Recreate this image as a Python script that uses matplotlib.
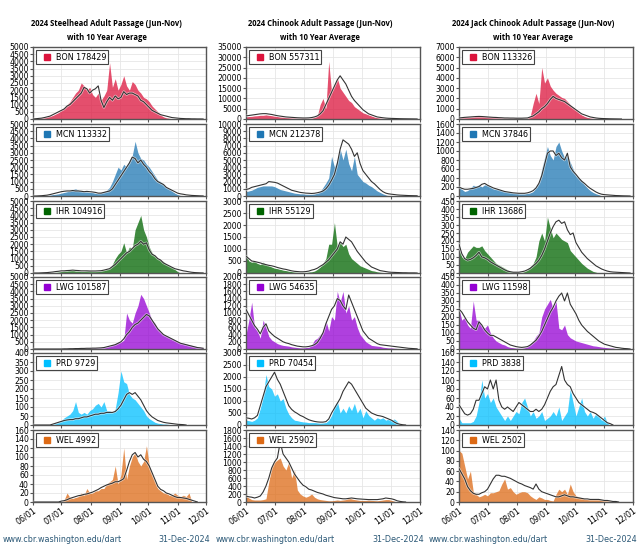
import numpy as np
import matplotlib
matplotlib.use('Agg')
import matplotlib.pyplot as plt
import matplotlib.dates as mdates
import matplotlib.patheffects as pe
from matplotlib.lines import Line2D

# daily counts, one reading every 3 days from 06/01
start = np.datetime64('2024-06-01')
step = 3

# ---- Steelhead ----
stl_bon = [0, 30, 60, 80, 100, 150, 200, 250, 350, 450,
           600, 800, 1000, 1200, 1500, 1800, 2000, 2500, 2300, 2000,
           2200, 1700, 1500, 1800, 1300, 1600, 2000, 3900, 2200, 2800, 2000,
           2400, 3000, 2300, 2000, 2600, 2400, 2000, 1800, 1500, 1400,
           1200, 900, 700, 500, 300, 150, 80, 50, 30, 20,
           10, 10, 5, 5, 0]
stl_bon_avg = [0, 20, 40, 60, 100, 150, 200, 300, 400, 500,
               600, 700, 900, 1000, 1200, 1400, 1600, 1800, 2200, 2100,
               1800, 2000, 2100, 2300, 1300, 800, 1200, 1500, 1300, 1600, 1400,
               1500, 1900, 1700, 1800, 1800, 1700, 1600, 1300, 1200, 1000,
               800, 600, 500, 400, 300, 250, 200, 150, 100, 80,
               60, 40, 30, 20, 20, 10, 10, 5, 5, 0]
stl_mcn = [0, 0, 0, 10, 20, 40, 80, 100, 120, 150,
           200, 250, 300, 350, 450, 500, 400, 350, 300, 300,
           250, 250, 200, 200, 250, 300, 400, 600, 1000, 1500, 2000,
           1800, 2200, 2000, 2500, 2800, 3800, 3000, 2600, 2500, 2200,
           2000, 1700, 1400, 1100, 1000, 800, 600, 500, 350, 200,
           100, 30, 10, 0]
stl_mcn_avg = [0, 0, 10, 20, 40, 60, 100, 150, 200, 250,
               300, 330, 350, 350, 380, 350, 350, 330, 300, 320,
               300, 280, 250, 200, 200, 250, 300, 350, 500, 800, 1100,
               1400, 1700, 2000, 2300, 2700, 2600, 2300, 2500, 2200, 2000,
               1700, 1500, 1200, 1000, 900, 800, 600, 500, 400, 300,
               200, 150, 120, 80, 60, 40, 30, 20, 10, 5]
stl_ihr = [0, 0, 0, 0, 10, 20, 30, 50, 60, 80,
           100, 150, 150, 200, 200, 150, 150, 120, 120, 150,
           150, 120, 120, 130, 150, 200, 250, 300, 600, 1000, 1300,
           1500, 2100, 1400, 1800, 1700, 3000, 3500, 4000, 3000, 2500,
           1800, 1400, 1200, 1000, 900, 800, 600, 500, 400, 250,
           100, 0]
stl_ihr_avg = [0, 0, 0, 10, 20, 30, 50, 70, 100, 120,
               150, 150, 170, 180, 200, 180, 170, 150, 150, 150,
               140, 140, 140, 150, 160, 200, 250, 300, 450, 600, 800,
               1000, 1200, 1400, 1500, 1700, 1900, 2000, 2200, 2000, 2100,
               1600, 1300, 1200, 1000, 900, 700, 600, 500, 400, 300,
               250, 200, 150, 120, 80, 50, 30, 20, 10, 5]
stl_lwg = [0, 0, 0, 0, 0, 0, 0, 0, 0, 0,
           10, 10, 20, 20, 30, 30, 40, 50, 50, 60,
           60, 70, 80, 80, 100, 100, 150, 200, 300, 400, 500,
           500, 600, 2500, 2000, 1800, 2500, 3000, 3800, 3500, 3000,
           2500, 2000, 1800, 1400, 1200, 1000, 900, 800, 700, 600,
           500, 450, 400, 350, 300, 250, 200, 150, 120, 100]
stl_lwg_avg = [0, 0, 0, 0, 0, 0, 0, 0, 0, 0,
               0, 10, 10, 20, 20, 30, 30, 40, 40, 50,
               50, 60, 60, 70, 80, 100, 150, 200, 250, 300, 400,
               500, 700, 1000, 1200, 1500, 1700, 1800, 2000, 2200, 2400,
               2300, 2000, 1700, 1400, 1200, 1000, 900, 800, 700, 600,
               500, 400, 350, 300, 250, 200, 150, 100, 80, 50]
stl_prd = [0, 0, 0, 0, 0, 0, 0, 5, 10, 15,
           25, 40, 50, 60, 80, 130, 70, 60, 70, 60,
           80, 90, 110, 120, 100, 130, 80, 80, 70, 90, 180,
           300, 240, 230, 170, 150, 140, 120, 100, 80, 50,
           35, 25, 15, 10, 8, 5, 5, 3, 3, 2,
           1, 0]
stl_prd_avg = [0, 0, 0, 0, 0, 0, 0, 5, 10, 15,
               20, 25, 28, 30, 30, 35, 35, 40, 45, 45,
               50, 55, 60, 60, 65, 65, 70, 70, 70, 75, 90,
               110, 140, 170, 180, 170, 180, 160, 140, 110, 80,
               60, 45, 35, 25, 20, 15, 12, 10, 8, 6,
               4, 3, 2, 0]
stl_wel = [0, 0, 0, 0, 0, 0, 0, 0, 0, 0,
           0, 5, 20, 10, 8, 10, 12, 20, 15, 30,
           20, 20, 25, 25, 30, 30, 40, 45, 50, 80, 40,
           60, 120, 50, 80, 100, 110, 90, 80, 90, 125,
           80, 60, 45, 30, 25, 20, 20, 15, 15, 20,
           15, 12, 15, 12, 20, 0]
stl_wel_avg = [0, 0, 0, 0, 0, 0, 0, 0, 0, 0,
               2, 3, 5, 8, 10, 12, 14, 15, 17, 18,
               20, 22, 25, 28, 32, 35, 38, 40, 42, 45, 45,
               48, 52, 70, 90, 105, 110, 100, 105, 95, 90,
               80, 65, 50, 35, 28, 25, 20, 18, 15, 12,
               10, 10, 9, 8, 6, 4, 2, 0]

# ---- Chinook ----
chn_bon = [1000, 1200, 1300, 1500, 1600, 1800, 1800, 2000, 1800, 1600,
           1400, 1200, 1000, 900, 800, 700, 600, 600, 500, 500,
           500, 400, 400, 500, 800, 1500, 7000, 10000, 5000, 28000, 13000,
           16000, 20000, 15000, 13000, 11000, 9000, 8000, 6000, 5000, 4000,
           3000, 2500, 2000, 1500, 1000, 700, 500, 400, 300, 200,
           150, 100, 80, 50, 30, 20, 10, 0]
chn_bon_avg = [1500, 1700, 1900, 2100, 2300, 2500, 2600, 2600, 2400, 2200,
               1900, 1600, 1400, 1200, 1000, 900, 800, 700, 600, 550,
               500, 500, 550, 700, 1000, 1500, 2500, 4000, 7000, 10000, 13000,
               16000, 19000, 21000, 19000, 17000, 14000, 11000, 9000, 7500, 6000,
               4500, 3500, 2500, 2000, 1500, 1000, 800, 600, 450, 350,
               300, 250, 200, 150, 120, 100, 80, 60, 40, 20]
chn_mcn = [600, 700, 800, 1000, 1200, 1300, 1400, 1400, 1400, 1400,
           1300, 1100, 900, 800, 700, 600, 500, 400, 350, 300,
           300, 250, 250, 250, 300, 400, 600, 1200, 1800, 2500, 5500,
           4000, 5000, 6500, 5000, 6500, 4500, 3500, 5500, 3000, 2500,
           2000, 1800, 1500, 1300, 1000, 700, 500, 300, 150, 0]
chn_mcn_avg = [900, 1000, 1200, 1300, 1400, 1500, 1600, 1700, 2000, 1950,
               1900, 1800, 1600, 1400, 1200, 1000, 800, 700, 600, 500,
               450, 400, 380, 350, 380, 450, 550, 700, 1000, 1500, 2200,
               3000, 4500, 6500, 7800, 7500, 7200, 6500, 5500, 6000, 4500,
               3500, 3000, 2500, 2000, 1700, 1300, 900, 600, 400, 300,
               250, 200, 150, 120, 100, 80, 60, 50, 40, 30]
chn_ihr = [800, 500, 450, 500, 400, 350, 450, 350, 300, 250,
           200, 180, 150, 120, 100, 80, 60, 50, 40, 30,
           30, 30, 40, 50, 80, 150, 250, 400, 600, 1200, 1200,
           2100, 1100, 1300, 1100, 1200, 800, 600, 500, 400, 300,
           250, 200, 150, 100, 80, 50, 30, 20, 10, 0]
chn_ihr_avg = [700, 600, 500, 480, 450, 420, 380, 350, 320, 300,
               270, 230, 200, 170, 150, 120, 90, 70, 60, 50,
               50, 60, 80, 120, 150, 200, 280, 350, 450, 550, 700,
               850, 1000, 1300, 1200, 1500, 1400, 1300, 1100, 900, 750,
               600, 450, 350, 250, 200, 150, 100, 80, 60, 40,
               30, 25, 20, 15, 10, 10, 5, 5, 5, 0]
chn_lwg = [400, 800, 1300, 600, 500, 300, 800, 600, 350, 250,
           200, 150, 120, 100, 90, 80, 60, 50, 40, 30,
           30, 40, 50, 100, 250, 300, 400, 500, 800, 500, 900,
           800, 1600, 1300, 1600, 1000, 1200, 800, 900, 600, 400,
           300, 200, 150, 100, 90, 80, 70, 50, 40, 30,
           30, 20, 15, 10, 5, 0]
chn_lwg_avg = [1100, 950, 800, 650, 550, 420, 600, 700, 500, 420,
               350, 300, 250, 200, 170, 150, 120, 100, 80, 70,
               60, 60, 70, 90, 120, 180, 300, 450, 700, 900, 1100,
               1200, 1400, 1350, 1200, 1100, 1500, 1300, 1100, 900, 700,
               500, 400, 300, 250, 200, 150, 120, 110, 100, 90,
               80, 70, 60, 50, 40, 30, 20, 15, 10, 5]
chn_prd = [200, 180, 150, 200, 300, 700, 1200, 2100, 1600, 1500,
           1200, 1300, 1000, 1100, 700, 450, 300, 200, 180, 150,
           130, 120, 100, 100, 100, 90, 80, 90, 100, 200, 400,
           800, 1000, 500, 700, 500, 800, 600, 900, 500, 700,
           300, 600, 400, 300, 200, 300, 250, 300, 200, 250,
           200, 250, 150, 0]
chn_prd_avg = [300, 280, 250, 300, 400, 800, 1200, 1600, 1800, 2000,
               2200, 1900, 1700, 1400, 1100, 800, 650, 550, 480, 400,
               350, 280, 220, 180, 150, 130, 120, 120, 140, 250, 500,
               700, 900, 1100, 1400, 1600, 1800, 1700, 1500, 1300, 1100,
               900, 700, 600, 500, 450, 400, 380, 350, 300, 250,
               200, 120, 60, 30, 10, 0]
chn_wel = [150, 100, 60, 50, 50, 50, 60, 80, 500, 900,
           1000, 1050, 1100, 900, 800, 1000, 600, 800, 300, 200,
           150, 120, 150, 200, 120, 80, 60, 50, 40, 30, 30,
           40, 50, 40, 50, 60, 100, 80, 60, 50, 40,
           40, 40, 50, 40, 35, 30, 40, 50, 60, 60,
           40, 20, 10, 0]
chn_wel_avg = [150, 130, 120, 100, 120, 150, 250, 400, 600, 850,
               1000, 1100, 1500, 1200, 1100, 1000, 850, 700, 600, 500,
               420, 380, 320, 300, 270, 240, 220, 200, 170, 150, 130,
               110, 100, 90, 80, 80, 90, 100, 90, 80, 75,
               70, 65, 60, 60, 60, 60, 70, 80, 100, 90,
               80, 60, 30, 15, 5, 0]

# ---- Jack Chinook ----
jck_bon = [150, 150, 180, 200, 200, 220, 250, 250, 250, 250,
           230, 200, 180, 160, 150, 120, 100, 100, 90, 80,
           80, 70, 60, 60, 80, 300, 1500, 2500, 1500, 5000, 3500,
           4000, 3200, 2800, 2500, 2300, 2100, 2000, 1700, 1400, 1100,
           900, 600, 400, 250, 150, 100, 80, 60, 50, 30,
           20, 10, 0]
jck_bon_avg = [100, 130, 160, 180, 200, 220, 240, 250, 240, 220,
               200, 180, 160, 150, 130, 120, 100, 100, 90, 90,
               80, 80, 80, 90, 100, 200, 300, 500, 700, 1000, 1200,
               1500, 1900, 2200, 2000, 1900, 1800, 1700, 1500, 1300, 1100,
               900, 700, 500, 400, 300, 200, 150, 100, 70, 50,
               40, 30, 20, 15, 10, 5, 0]
jck_mcn = [200, 150, 100, 120, 180, 240, 220, 250, 200, 250,
           240, 200, 160, 150, 140, 120, 100, 90, 80, 70,
           60, 50, 50, 50, 60, 70, 100, 200, 300, 600, 850,
           1100, 900, 800, 1100, 1200, 1000, 850, 900, 750, 600,
           450, 400, 350, 250, 180, 120, 80, 50, 30, 0]
jck_mcn_avg = [200, 170, 150, 150, 160, 170, 190, 210, 260, 280,
               240, 210, 180, 160, 140, 120, 100, 90, 80, 70,
               65, 60, 60, 60, 70, 90, 120, 180, 280, 450, 700,
               950, 1000, 1000, 900, 950, 850, 800, 950, 650, 550,
               480, 400, 330, 280, 220, 170, 130, 90, 60, 40,
               30, 25, 20, 15, 10, 8, 5, 3, 2, 0]
jck_ihr = [150, 100, 90, 130, 150, 170, 160, 160, 170, 140,
           120, 100, 80, 60, 50, 40, 30, 20, 10, 5,
           5, 5, 5, 10, 20, 40, 60, 100, 200, 250, 200,
           350, 280, 220, 250, 230, 210, 200, 190, 140, 120,
           100, 80, 60, 45, 30, 20, 10, 5, 0]
jck_ihr_avg = [180, 120, 90, 80, 85, 95, 110, 130, 100, 95,
               85, 70, 60, 50, 40, 30, 20, 12, 8, 5,
               5, 5, 8, 12, 20, 30, 45, 60, 80, 110, 150,
               200, 250, 290, 320, 330, 310, 320, 270, 240, 250,
               190, 160, 130, 110, 90, 75, 60, 45, 35, 25,
               18, 12, 8, 6, 5, 4, 3, 2, 1, 0]
jck_lwg = [250, 180, 200, 150, 130, 300, 180, 180, 140, 130,
           150, 100, 70, 50, 40, 30, 25, 15, 10, 8,
           5, 5, 5, 8, 15, 30, 50, 80, 100, 200, 250,
           280, 310, 250, 300, 130, 120, 150, 90, 70, 60,
           50, 45, 40, 35, 30, 25, 20, 18, 15, 12,
           10, 8, 6, 5, 3, 2, 0]
jck_lwg_avg = [250, 230, 200, 170, 150, 130, 120, 170, 150, 120,
               100, 85, 85, 75, 65, 55, 45, 35, 25, 20,
               15, 12, 10, 12, 15, 25, 40, 55, 80, 110, 150,
               190, 230, 260, 300, 330, 350, 300, 350, 280, 250,
               220, 180, 150, 130, 110, 95, 80, 65, 50, 40,
               30, 25, 20, 15, 10, 8, 5, 3, 2, 0]
jck_prd = [15, 5, 5, 5, 5, 8, 20, 50, 100, 60,
           70, 50, 60, 40, 30, 20, 10, 20, 10, 20,
           30, 25, 50, 60, 40, 20, 30, 15, 20, 30, 10,
           15, 20, 30, 20, 40, 10, 20, 30, 80, 50,
           20, 40, 60, 30, 20, 30, 15, 25, 20, 10,
           20, 5, 0]
jck_prd_avg = [45, 35, 25, 22, 25, 35, 55, 55, 70, 85,
               80, 100, 80, 100, 55, 40, 35, 40, 35, 30,
               40, 50, 45, 40, 35, 30, 30, 35, 30, 35, 45,
               60, 75, 85, 90, 110, 130, 100, 90, 85, 70,
               60, 50, 45, 40, 35, 30, 28, 25, 20, 15,
               10, 5, 3, 0]
jck_wel = [100, 95, 70, 45, 60, 20, 15, 10, 12, 15,
           12, 18, 18, 20, 22, 35, 45, 25, 28, 20,
           15, 18, 20, 20, 18, 12, 8, 5, 10, 8, 5,
           5, 3, 2, 15, 25, 20, 25, 15, 35, 20,
           12, 10, 8, 6, 5, 5, 5, 5, 5, 4,
           3, 3, 2, 0]
jck_wel_avg = [65, 55, 45, 30, 22, 17, 15, 15, 18, 20,
               25, 35, 45, 52, 52, 50, 50, 48, 46, 43,
               40, 37, 35, 32, 30, 28, 25, 35, 25, 20, 18,
               16, 14, 12, 10, 10, 12, 14, 12, 10, 10,
               9, 8, 7, 6, 6, 5, 5, 5, 5, 4,
               3, 3, 2, 1, 1, 0]

dams = ['BON', 'MCN', 'IHR', 'LWG', 'PRD', 'WEL']
dam_colors = ['#dc143c', '#1f77b4', '#006400', '#9400d3', '#00bfff', '#dd6a15']
titles = ['2024 Steelhead Adult Passage (Jun-Nov)\nwith 10 Year Average',
          '2024 Chinook Adult Passage (Jun-Nov)\nwith 10 Year Average',
          '2024 Jack Chinook Adult Passage (Jun-Nov)\nwith 10 Year Average']
totals = [[178429, 113332, 104916, 101587, 9729, 4992],
          [557311, 212378, 55129, 54635, 70454, 25902],
          [113326, 37846, 13686, 11598, 3838, 2502]]
series = [[(stl_bon, stl_bon_avg), (stl_mcn, stl_mcn_avg), (stl_ihr, stl_ihr_avg),
           (stl_lwg, stl_lwg_avg), (stl_prd, stl_prd_avg), (stl_wel, stl_wel_avg)],
          [(chn_bon, chn_bon_avg), (chn_mcn, chn_mcn_avg), (chn_ihr, chn_ihr_avg),
           (chn_lwg, chn_lwg_avg), (chn_prd, chn_prd_avg), (chn_wel, chn_wel_avg)],
          [(jck_bon, jck_bon_avg), (jck_mcn, jck_mcn_avg), (jck_ihr, jck_ihr_avg),
           (jck_lwg, jck_lwg_avg), (jck_prd, jck_prd_avg), (jck_wel, jck_wel_avg)]]
# y axis top and tick step for each panel
ytop = [[5000, 5000, 5000, 5000, 400, 160],
        [35000, 10000, 3000, 2000, 3000, 1800],
        [7000, 1600, 450, 450, 160, 140]]
ystep = [[500, 500, 500, 500, 50, 20],
         [5000, 1000, 500, 200, 500, 200],
         [1000, 200, 50, 50, 20, 20]]

W, H = 640, 560
fig = plt.figure(figsize=(6.4, 5.6), dpi=100)

col_left = [33, 246, 459]
col_w = [173, 174, 174]
row_top = [47, 124, 201, 277, 353, 430]
row_h = 72

xmin = np.datetime64('2024-06-01')
xmax = np.datetime64('2024-12-01')

for c in range(3):
    for r in range(6):
        ax = fig.add_axes([col_left[c] / W, 1 - (row_top[r] + row_h) / H,
                           col_w[c] / W, row_h / H])
        vals, avg = series[c][r]
        d1 = start + np.arange(len(vals)) * step
        d2 = start + np.arange(len(avg)) * step
        ax.fill_between(d1, vals, color=dam_colors[r], alpha=0.75, lw=0, zorder=2)
        ax.plot(d2, avg, color='#333333', lw=0.8, zorder=3,
                path_effects=[pe.withStroke(linewidth=1.8, foreground='white', alpha=0.6)])
        ax.set_xlim(xmin, xmax)
        ax.set_ylim(0, ytop[c][r])
        ax.set_yticks(np.arange(0, ytop[c][r] + 1, ystep[c][r]))
        ax.xaxis.set_major_locator(mdates.MonthLocator())
        ax.xaxis.set_major_formatter(mdates.DateFormatter('%m/%d'))
        ax.grid(True, color='#e6e6e6', lw=0.6, zorder=0)
        ax.set_axisbelow(True)
        for s in ax.spines.values():
            s.set_color('#555555')
            s.set_linewidth(1.0)
        ax.tick_params(axis='y', labelsize=5.6, length=2, pad=1, color='#555555')
        ax.tick_params(axis='x', labelsize=5.8, length=2, pad=1, color='#555555')
        if r < 5:
            ax.tick_params(axis='x', labelbottom=False)
        else:
            for lab in ax.get_xticklabels():
                lab.set_rotation(35)
                lab.set_ha('right')
                lab.set_rotation_mode('anchor')
        mark = Line2D([], [], marker='s', ls='', markersize=4.2,
                      color=dam_colors[r], label=f'{dams[r]} {totals[c][r]}')
        leg = ax.legend(handles=[mark], loc='upper left', fontsize=5.8,
                        frameon=True, fancybox=False, edgecolor='#444444',
                        framealpha=1, borderpad=0.3, handlelength=2.0,
                        handletextpad=0.1, borderaxespad=0.4)
        leg.get_frame().set_linewidth(0.8)
    # titles sit a little left of the panel centre
    cx = (col_left[c] + col_w[c] / 2 - 13) / W
    fig.text(cx, 1 - 30.5 / H, titles[c], ha='center', va='center', fontsize=5.5,
             fontweight='bold', family='Open Sans', linespacing=1.7)
    fig.text((col_left[c] - 30) / W, 1 - 540 / H, 'www.cbr.washington.edu/dart',
             fontsize=5.8, color='#2b5876', va='center', ha='left')
    fig.text((col_left[c] + col_w[c] + 4) / W, 1 - 540 / H, '31-Dec-2024',
             fontsize=5.8, color='#2b5876', va='center', ha='right')

fig.savefig('out.png', dpi=100)
